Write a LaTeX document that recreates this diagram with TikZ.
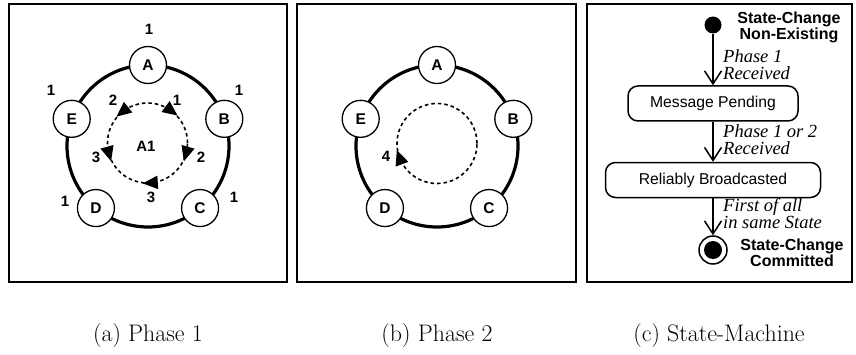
\documentclass[tikz,border=0pt]{standalone}
\usepackage{fontspec}
\newfontfamily\arialfont{Liberation Sans}
\newfontfamily\tnrfont{Liberation Serif}
\usetikzlibrary{arrows.meta}

% filled arrowhead sitting on a dashed message circle:
% #1 = centre of the circle, #2 = angle on the circle, #3 = heading
\newcommand\msgtip[3]{%
  \fill[shift={(#1)}, shift={(#2:40)}, rotate=#3]
    (7.5,0) -- (-7.5,6.8) -- (-7.5,-6.8) -- cycle;}

\begin{document}
\begin{tikzpicture}[x=1pt, y=1pt,
  panel/.style={draw, line width=2pt},
  ring/.style={draw, line width=3.2pt},
  peer/.style={circle, draw, fill=white, line width=1.3pt, minimum size=37pt,
    inner sep=0pt, font=\arialfont\bfseries\fontsize{15.5}{18}\selectfont},
  lbl/.style={inner sep=0pt, font=\arialfont\bfseries\fontsize{15}{17}\selectfont},
  msg/.style={draw, dash pattern=on 3.5pt off 3pt, line width=1.6pt},
  state/.style={draw, rounded corners=10pt, line width=1.5pt, minimum height=35pt,
    inner sep=0pt, font=\arialfont\fontsize{15.7}{18}\selectfont},
  trans/.style={draw, line width=1.5pt,
    -{Straight Barb[length=13pt, width=17pt, line width=1.5pt]}},
  guard/.style={anchor=west, inner sep=0pt, align=left,
    font=\tnrfont\itshape\fontsize{18.5}{17}\selectfont},
  statename/.style={inner sep=0pt, align=center,
    font=\arialfont\bfseries\fontsize{16}{14}\selectfont},
  caption/.style={anchor=base, inner sep=0pt, font=\fontsize{23.9}{28}\selectfont}]

\useasboundingbox (0,0) rectangle (856,354);

% ---------- (a) Phase 1 ----------
\draw[panel] (9,72) rectangle (287,350);
\coordinate (ca) at (148,208);
\draw[ring] (ca) circle (81);
\node[peer] (aA) at ([shift={(90:81)}]ca) {A};
\node[peer] (aB) at ([shift={(19.6:81)}]ca) {B};
\node[peer] (aC) at ([shift={(-50:81)}]ca) {C};
\node[peer] (aD) at ([shift={(-130:81)}]ca) {D};
\node[peer] (aE) at ([shift={(160.4:81)}]ca) {E};
\node[lbl] (nA) at (149,325) {1};
\node[lbl] (nB) at (239,264) {1};
\node[lbl] (nC) at (234,157) {1};
\node[lbl] (nD) at (65,153) {1};
\node[lbl] (nE) at (51,264) {1};

\coordinate (da) at (147.5,211);
\draw[msg] (da) circle (40);
\msgtip{da}{53}{-37}
\msgtip{da}{129}{219}
\msgtip{da}{-16}{-106}
\msgtip{da}{-164}{-74}
\msgtip{da}{-86}{-176}
\node[lbl] (m1) at (177,254) {1};
\node[lbl] (m2l) at (113,254) {2};
\node[lbl] (m2r) at (201,197) {2};
\node[lbl] (m3l) at (96,197) {3};
\node[lbl] (m3b) at (151,157) {3};
\node[lbl] (a1) at (146,208) {A1};

% ---------- (b) Phase 2 ----------
\draw[panel] (297,72) rectangle (576,350);
\coordinate (cb) at (437,208);
\draw[ring] (cb) circle (81);
\node[peer] (bA) at ([shift={(90:81)}]cb) {A};
\node[peer] (bB) at ([shift={(19.6:81)}]cb) {B};
\node[peer] (bC) at ([shift={(-50:81)}]cb) {C};
\node[peer] (bD) at ([shift={(-130:81)}]cb) {D};
\node[peer] (bE) at ([shift={(160.4:81)}]cb) {E};

\coordinate (db) at (437,210.5);
\draw[msg] (db) circle (40);
\msgtip{db}{-160}{110}
\node[lbl] (m4) at (386,198) {4};

% ---------- (c) State-Machine ----------
\draw[panel] (587,72) rectangle (852,350);
\node[circle, fill, minimum size=17pt, inner sep=0pt] (init) at (713,329) {};
\node[state, minimum width=170pt] (pend) at (713,250.5) {Message Pending};
\node[state, minimum width=215pt] (rb) at (713,174) {Reliably Broadcasted};
\node[circle, draw, line width=1.5pt, minimum size=28pt, inner sep=0pt] (final) at (713,104) {};
\fill (final.center) circle (9);

\draw[trans] (init) -- (pend);
\draw[trans] (pend) -- (rb);
\draw[trans] (rb) -- (final);

\node[guard] (g1) at (723,289.5) {Phase 1\\Received};
\node[guard] (g2) at (723,214) {Phase 1 or 2\\Received};
\node[guard] (g3) at (723,140) {First of all\\in same State};
\node[statename] (sInit) at (789,327) {State-Change\\Non-Existing};
\node[statename] (sFinal) at (792,101) {State-Change\\Committed};

% ---------- captions ----------
\node[caption] (capa) at (148,13) {(a) Phase 1};
\node[caption] (capb) at (437,13) {(b) Phase 2};
\node[caption] (capc) at (719,13) {(c) State-Machine};
\end{tikzpicture}
\end{document}
